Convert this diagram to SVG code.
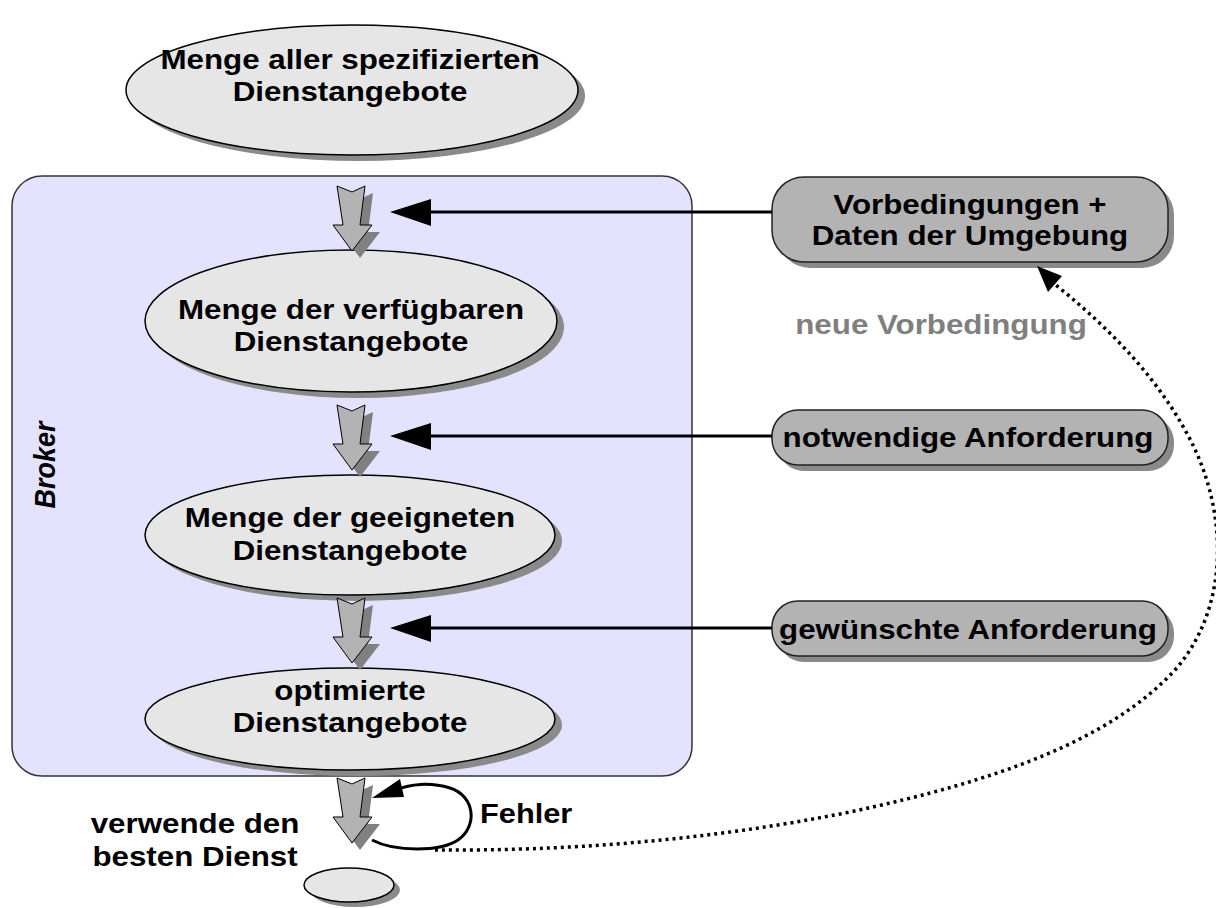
<svg xmlns="http://www.w3.org/2000/svg" width="1216" height="908" viewBox="0 0 1216 908">
  <style>
    .t { font-family: "Liberation Sans", Arial, sans-serif; font-weight: bold; font-size: 27px; fill: #000; text-anchor: middle; }
    .lbl { font-family: "Liberation Sans", Arial, sans-serif; font-weight: bold; font-size: 27px; fill: #000; }
    .grey { fill: #7f7f7f; }
    .ell { fill: #e6e6e6; stroke: #000; stroke-width: 1.5; }
    .shadow { fill: #8a8a8a; stroke: none; }
    .box { fill: #b3b3b3; stroke: #222; stroke-width: 1.5; }
    .blk { fill: #b3b3b3; stroke: #000; stroke-width: 1; }
    .blkshadow { fill: #808080; }
    .line { stroke: #000; stroke-width: 3; fill: none; }
    .dots { stroke: #000; stroke-width: 3.5; fill: none; stroke-dasharray: 3 4; }
  </style>
  <defs>
    <!-- block arrow with notched tail, origin at top centre -->
    <path id="blockArrow" d="M -15 0 L 0 6 L 13 0 L 8 39 L 20 39 L 0 65 L -19 39 L -9 39 Z"/>
  </defs>

  <rect width="1216" height="908" fill="#fff"/>

  <!-- Broker container -->
  <g id="broker">
    <rect x="12" y="176" width="680" height="600" rx="30" ry="30" fill="#e3e3ff" stroke="#333" stroke-width="1.5"/>
    <text class="lbl" font-style="italic" font-size="25" text-anchor="middle" transform="translate(55,465) rotate(-90) scale(1,1.12)">Broker</text>
  </g>

  <!-- all specified offers -->
  <g id="node-all">
    <ellipse class="shadow" cx="359" cy="96" rx="226" ry="65"/>
    <ellipse class="ell" cx="352" cy="90" rx="226" ry="65"/>
    <text class="t" transform="translate(350,69) scale(1.16,1)">Menge aller spezifizierten</text>
    <text class="t" transform="translate(350,101) scale(1.16,1)">Dienstangebote</text>
  </g>

  <!-- available offers -->
  <g id="node-available">
    <ellipse class="shadow" cx="358" cy="327" rx="206" ry="71"/>
    <ellipse class="ell" cx="351" cy="321" rx="206" ry="71"/>
    <text class="t" transform="translate(351,319) scale(1.16,1)">Menge der verfügbaren</text>
    <text class="t" transform="translate(351,351) scale(1.16,1)">Dienstangebote</text>
  </g>

  <!-- suitable offers -->
  <g id="node-suitable">
    <ellipse class="shadow" cx="357" cy="541" rx="205" ry="60"/>
    <ellipse class="ell" cx="350" cy="535" rx="205" ry="60"/>
    <text class="t" transform="translate(350,527) scale(1.16,1)">Menge der geeigneten</text>
    <text class="t" transform="translate(350,560) scale(1.16,1)">Dienstangebote</text>
  </g>

  <!-- optimised offers -->
  <g id="node-optimized">
    <ellipse class="shadow" cx="357" cy="725" rx="205" ry="51"/>
    <ellipse class="ell" cx="350" cy="719" rx="205" ry="51"/>
    <text class="t" transform="translate(350,700) scale(1.16,1)">optimierte</text>
    <text class="t" transform="translate(350,732) scale(1.16,1)">Dienstangebote</text>
  </g>

  <!-- final small node -->
  <g id="node-result">
    <ellipse class="shadow" cx="355" cy="890" rx="45" ry="17"/>
    <ellipse class="ell" cx="349" cy="885" rx="45" ry="17"/>
  </g>

  <!-- input boxes -->
  <g id="box-preconditions">
    <rect class="shadow" x="778" y="183" width="396" height="85" rx="32"/>
    <rect class="box" x="772" y="177" width="396" height="85" rx="32"/>
    <text class="t" transform="translate(970,214) scale(1.16,1)">Vorbedingungen +</text>
    <text class="t" transform="translate(970,245) scale(1.16,1)">Daten der Umgebung</text>
  </g>
  <g id="box-required">
    <rect class="shadow" x="778" y="416" width="396" height="55" rx="26"/>
    <rect class="box" x="772" y="410" width="396" height="55" rx="26"/>
    <text class="t" transform="translate(968,447) scale(1.16,1)">notwendige Anforderung</text>
  </g>
  <g id="box-desired">
    <rect class="shadow" x="778" y="607" width="396" height="55" rx="26"/>
    <rect class="box" x="772" y="601" width="396" height="55" rx="26"/>
    <text class="t" transform="translate(968,639) scale(1.16,1)">gewünschte Anforderung</text>
  </g>

  <!-- connectors -->
  <g id="connectors">
    <!-- block arrows down the chain -->
    <use href="#blockArrow" class="blkshadow" x="360" y="193"/>
    <use href="#blockArrow" class="blk" x="352" y="186"/>
    <use href="#blockArrow" class="blkshadow" x="360" y="412"/>
    <use href="#blockArrow" class="blk" x="352" y="405"/>
    <use href="#blockArrow" class="blkshadow" x="360" y="605"/>
    <use href="#blockArrow" class="blk" x="352" y="598"/>
    <use href="#blockArrow" class="blkshadow" x="360" y="785"/>
    <use href="#blockArrow" class="blk" x="352" y="778"/>

    <!-- inputs into the chain -->
    <line class="line" x1="772" y1="212" x2="428" y2="212"/>
    <polygon points="390,212 431,199 431,226" fill="#000"/>
    <line class="line" x1="772" y1="436" x2="428" y2="436"/>
    <polygon points="390,436 431,423 431,450" fill="#000"/>
    <line class="line" x1="772" y1="628" x2="428" y2="628"/>
    <polygon points="390,628 431,615 431,642" fill="#000"/>

    <!-- error loop -->
    <path class="line" d="M 372 840 C 395 852 440 852 458 840 C 478 826 475 796 450 788 C 430 782 410 784 396 790"/>
    <polygon points="372,798 400,779 404,797" fill="#000"/>

    <!-- new precondition feedback -->
    <path class="dots" d="M 435 850 C 560 851 700 842 850 812 C 1000 780 1110 740 1175 670 C 1232 605 1228 505 1185 430 C 1152 370 1100 320 1052 282"/>
    <polygon points="1037,266 1062,276 1048,292" fill="#000"/>
  </g>

  <!-- free labels -->
  <g id="labels">
    <text class="t grey" transform="translate(941,334) scale(1.16,1)">neue Vorbedingung</text>
    <text class="lbl" transform="translate(480,823) scale(1.14,1)">Fehler</text>
    <text class="t" transform="translate(195,833) scale(1.16,1)">verwende den</text>
    <text class="t" transform="translate(195,866) scale(1.16,1)">besten Dienst</text>
  </g>
</svg>
